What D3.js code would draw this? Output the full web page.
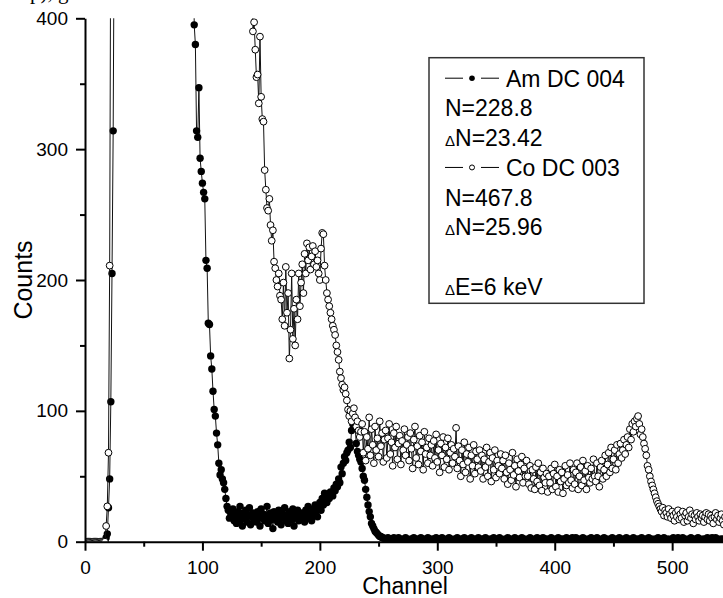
<!DOCTYPE html>
<html>
<head>
<meta charset="utf-8">
<script src="https://cdn.jsdelivr.net/npm/d3@7"></script>
<style>
body { margin: 0; background: #fff; }
svg { display: block; font-family: "Liberation Sans", Arial, sans-serif; }
</style>
</head>
<body>
<div id="chart"></div>
<script>
// Axis ticks
let xTicks = [0, 100, 200, 300, 400, 500];
let xMinorTicks = [50, 150, 250, 350, 450];
let yTicks = [0, 100, 200, 300, 400];
let yMinorTicks = [50, 150, 250, 350];

// Am DC 004 counts, one value per channel (500 = off scale, clipped)
let amRiseStart = 0;
let amRise = [0, 0, 0, 0, 0, 0, 0, 0, 0, 0, 0, 0, 0, 0, 0, 0, 0, 0,
    3, 6, 26, 48, 107, 205, 314, 500];
let amFallStart = 92;
let amFall = [500,
    395, 380, 314, 309, 347, 293, 283, 274, 267, 262,
    215, 209, 167, 166, 142, 132, 115, 101, 96, 83,
    74, 60, 51, 55, 48, 45, 40, 33, 27, 24,
    18, 22, 20,
    25, 16, 21, 14, 23, 19, 27, 17, 12, 22, 18, 24, 15, 20, 26, 13, 19, 22, 17, 21,
    15, 23, 19, 12, 25, 18, 21, 16, 20, 27, 14, 19, 22, 17, 10, 23, 18, 20, 15, 24,
    19, 13, 22, 18, 26, 16, 20, 14, 23, 19, 17, 25, 12, 21, 18, 24, 16, 20, 22, 17,
    21, 15, 24, 19, 27, 18, 22, 16, 25, 20, 28, 23, 19, 26, 30, 24, 33, 28, 37, 32,
    30, 36, 33, 38, 37, 35, 41, 39, 44, 42, 48, 45, 57, 52, 60, 65, 62, 68, 70, 76,
    72, 85, 90, 92, 88, 75, 69, 66, 63, 61, 56, 50, 47, 40, 34,
    28, 23, 19, 14, 12, 10, 8, 7, 6, 5, 4, 4, 3, 3, 2,
    2, 1, 3, 2, 2, 1, 2, 3, 1, 2, 2, 3, 1, 2, 1, 2, 2, 3, 2, 1,
    1, 2, 2, 1, 3, 2, 1, 2, 2, 2, 3, 1, 2, 2, 1, 2, 3, 2, 1, 2,
    2, 2, 1, 3, 2, 1, 2, 2, 3, 1, 2, 1, 2, 2, 3, 2, 1, 2, 1, 2,
    2, 3, 2, 1, 2, 2, 1, 3, 2, 2, 1, 2, 2, 3, 1, 2, 2, 1, 2, 3,
    2, 1, 2, 2, 2, 3, 1, 2, 1, 2, 2, 2, 3, 1, 2, 1, 2, 3, 2, 1,
    1, 2, 1, 2, 3, 2, 2, 1, 2, 2, 3, 2, 1, 2, 2, 1, 3, 2, 2, 1,
    2, 1, 2, 3, 2, 2, 1, 2, 1, 3, 2, 2, 1, 2, 3, 1, 2, 2, 2, 1,
    1, 3, 2, 2, 1, 2, 2, 3, 1, 2, 2, 2, 2, 1, 3, 2, 1, 2, 2, 3,
    1, 2, 3, 2, 1, 2, 2, 1, 3, 2, 2, 1, 2, 2, 2, 3, 2, 1, 2, 1,
    3, 2, 1, 2, 1, 2, 3, 2, 2, 2, 1, 2, 2, 3, 2, 1, 2, 2, 1, 3,
    2, 2, 1, 2, 2, 3, 1, 2, 2, 1, 2, 3, 2, 1, 2, 2, 2, 1, 3, 2,
    1, 2, 2, 2, 3, 1, 2, 2, 1, 2, 2, 1, 3, 2, 2, 2, 1, 3, 2, 1,
    2, 2, 1, 2, 1, 3, 2, 2, 2, 3, 1, 2, 2, 3, 2, 1, 2, 1, 2, 2,
    3, 2, 1, 2, 2, 2, 3, 1, 2, 1, 2, 2, 2, 1, 3, 2, 1, 2, 3, 2,
    1, 3, 2, 2, 1, 2, 2, 2, 1, 2];

// Co DC 003 counts, one value per channel (500 = off scale, clipped)
let coRiseStart = 0;
let coRise = [0, 0, 0, 0, 0, 0, 0, 0, 0, 0, 0, 0, 0, 0, 0, 0, 0, 0,
    12, 27, 68, 211, 500];
let coFallStart = 142;
let coFall = [500,
    390, 397, 376, 355, 357, 335, 386, 340, 323, 321,
    284, 269, 255, 253, 262, 242, 230, 238, 214, 209,
    200, 195, 205, 188, 185, 170, 198, 165, 210, 175,
    190, 140, 162, 205, 155, 178, 150, 185, 170, 205,
    180, 198, 212, 190, 220, 205, 228, 215, 225, 208,
    218, 226, 212, 222, 210, 215, 205, 200, 224, 236,
    235, 211, 200, 190, 185, 180, 175, 170, 165, 162,
    158, 150, 145, 139, 130, 125, 120, 116, 118, 113,
    108, 101, 96, 100, 92, 98, 102, 95, 88, 92,
    85, 80, 84,
    90, 68, 84, 62, 80, 71, 95, 66, 86, 74, 60, 88, 70, 79, 65, 92, 73, 83, 61, 78,
    85, 64, 79, 90, 67, 76, 58, 83, 72, 88, 63, 75, 81, 59, 77, 70, 86, 66, 74, 80,
    62, 83, 71, 56, 78, 88, 64, 73, 59, 81, 69, 76, 55, 84, 67, 72, 60, 79, 66, 74,
    58, 77, 64, 82, 61, 70, 53, 75, 66, 80, 57, 72, 63, 79, 55, 68, 74, 60, 71, 65,
    87, 56, 73, 62, 50, 70, 59, 76, 53, 67, 61, 72, 48, 66, 58, 74, 52, 69, 63, 57,
    70, 54, 66, 48, 63, 57, 72, 50, 61, 68, 46, 64, 55, 70, 49, 62, 58, 52, 67, 56,
    62, 48, 66, 53, 44, 60, 55, 47, 68, 51, 58, 42, 63, 54, 49, 59, 65, 45, 56, 50,
    62, 50, 44, 58, 41, 55, 48, 40, 57, 46, 60, 43, 53, 39, 56, 49, 45, 52, 38, 50,
    45, 56, 40, 52, 59, 42, 50, 38, 55, 46, 53, 37, 48, 58, 43, 51, 45, 60, 47, 41,
    55, 44, 53, 60, 40, 50, 57, 43, 62, 47, 54, 40, 58, 49, 45, 56, 48, 63, 50, 46,
    60, 50, 42, 57, 62, 48, 55, 66, 50, 59, 68, 53, 72, 56, 63, 70, 55, 74, 60, 67,
    75, 64, 70, 78, 67, 74, 80, 72, 86, 78,
    90, 84, 92, 88, 94, 96, 90, 82, 86, 80,
    75, 71, 66, 58, 55, 50, 46, 43, 40, 37, 34, 31, 29, 27, 25,
    23, 26, 20, 24, 22, 19, 25, 21, 18, 23, 20, 16, 22, 19, 24,
    17, 21, 18, 23, 15, 20, 22, 16, 19, 24, 18, 21, 14, 20, 17, 22, 19, 16, 21, 18,
    20, 15, 19, 22, 17, 21, 16, 20, 18, 14, 19, 22, 17, 20, 15, 18, 21, 16, 13, 19];

// Legend text
let legendLines = ["Am DC 004", "N=228.8", "\u0394N=23.42", "Co DC 003", "N=467.8", "\u0394N=25.96", "", "\u0394E=6 keV"];
let legendSymbolRows = { 0: "filled", 3: "open" };

function toPoints(start, counts) {
    return counts.map(function(c, i) { return { ch: start + i, n: c }; });
}

function createChart() {
    let width = 723, height = 598;
    let margin = { top: 18.3, right: -2, bottom: 56.3, left: 85 };

    let svg = d3.select("#chart")
        .append("svg")
        .attr("width", width)
        .attr("height", height);

    let x = d3.scaleLinear().domain([0, 545]).range([margin.left, width - margin.right]);
    let y = d3.scaleLinear().domain([0, 400]).range([height - margin.bottom, margin.top]);

    // cut-off caption above the plot
    svg.append("text")
        .attr("x", 30)
        .attr("y", -1)
        .style("font-family", "'Liberation Serif', 'Times New Roman', serif")
        .style("font-size", "21px")
        .text("p), g");

    svg.append("clipPath").attr("id", "plot-clip")
        .append("rect")
        .attr("x", x(0)).attr("y", y(400))
        .attr("width", x(545) - x(0)).attr("height", y(0) - y(400));

    let plot = svg.append("g").attr("clip-path", "url(#plot-clip)");

    let line = d3.line()
        .x(function(d) { return x(d.ch); })
        .y(function(d) { return y(d.n); });

    let series = [
        { name: "am", segments: [toPoints(amRiseStart, amRise), toPoints(amFallStart, amFall)], fill: "#000" },
        { name: "co", segments: [toPoints(coRiseStart, coRise), toPoints(coFallStart, coFall)], fill: "#fff" }
    ];

    series.forEach(function(s) {
        let g = plot.append("g").attr("class", s.name);
        s.segments.forEach(function(seg) {
            g.append("path")
                .datum(seg)
                .attr("fill", "none")
                .attr("stroke", "#111")
                .attr("stroke-width", 1)
                .attr("d", line);
        });
        let all = s.segments[0].concat(s.segments[1]);
        g.selectAll("circle")
            .data(all)
            .enter().append("circle")
            .attr("cx", function(d) { return x(d.ch); })
            .attr("cy", function(d) { return y(d.n); })
            .attr("r", s.fill === "#000" ? 3.7 : 3.4)
            .attr("fill", s.fill)
            .attr("stroke", "#000")
            .attr("stroke-width", s.fill === "#000" ? 0 : 1);
    });

    // x axis
    svg.append("g")
        .attr("transform", "translate(0," + y(0) + ")")
        .call(d3.axisBottom(x).tickValues(xTicks).tickSize(9).tickSizeOuter(0).tickPadding(10));
    svg.append("g")
        .attr("transform", "translate(0," + y(0) + ")")
        .call(d3.axisBottom(x).tickValues(xMinorTicks).tickSize(5).tickFormat(""))
        .select(".domain").remove();

    // y axis
    svg.append("g")
        .attr("transform", "translate(" + x(0) + ",0)")
        .call(d3.axisLeft(y).tickValues(yTicks).tickSize(9).tickSizeOuter(0).tickPadding(8));
    svg.append("g")
        .attr("transform", "translate(" + x(0) + ",0)")
        .call(d3.axisLeft(y).tickValues(yMinorTicks).tickSize(5).tickFormat(""))
        .select(".domain").remove();

    svg.selectAll(".domain, .tick line")
        .attr("stroke", "#000")
        .attr("stroke-width", 2);
    svg.selectAll(".tick text")
        .attr("fill", "#000")
        .style("font-family", "'Liberation Sans', Arial, sans-serif")
        .style("font-size", "19px");

    // axis titles
    svg.append("text")
        .attr("x", (x(0) + x(545)) / 2)
        .attr("y", 594)
        .attr("text-anchor", "middle")
        .style("font-size", "23px")
        .text("Channel");

    svg.append("text")
        .attr("transform", "translate(32," + (y(0) + y(400)) / 2 + ") rotate(-90)")
        .attr("text-anchor", "middle")
        .style("font-size", "25px")
        .text("Counts");

    // legend
    let legend = svg.append("g");
    legend.append("rect")
        .attr("x", 429).attr("y", 57.7)
        .attr("width", 215).attr("height", 245.6)
        .attr("fill", "#fff")
        .attr("stroke", "#333")
        .attr("stroke-width", 1.5);

    legendLines.forEach(function(txt, i) {
        let base = 86.7 + i * 29.75;
        let kind = legendSymbolRows[i];
        let tx = 445;
        if (kind) {
            let cy = base - 8.5;
            legend.append("line").attr("x1", 445).attr("x2", 463).attr("y1", cy).attr("y2", cy)
                .attr("stroke", "#000").attr("stroke-width", 1);
            legend.append("line").attr("x1", 481).attr("x2", 499).attr("y1", cy).attr("y2", cy)
                .attr("stroke", "#000").attr("stroke-width", 1);
            legend.append("circle").attr("cx", 472).attr("cy", cy)
                .attr("r", kind === "filled" ? 2.8 : 2.5)
                .attr("fill", kind === "filled" ? "#000" : "#fff")
                .attr("stroke", "#000").attr("stroke-width", kind === "filled" ? 0 : 1);
            tx = 506;
        }
        if (txt === "") return;
        let t = legend.append("text").attr("x", tx).attr("y", base).style("font-size", "23px");
        if (txt[0] === "\u0394") {
            t.append("tspan").style("font-size", "15px").text("\u0394");
            t.append("tspan").text(txt.slice(1));
        } else {
            t.text(txt);
        }
    });
}

createChart();
</script>
</body>
</html>
